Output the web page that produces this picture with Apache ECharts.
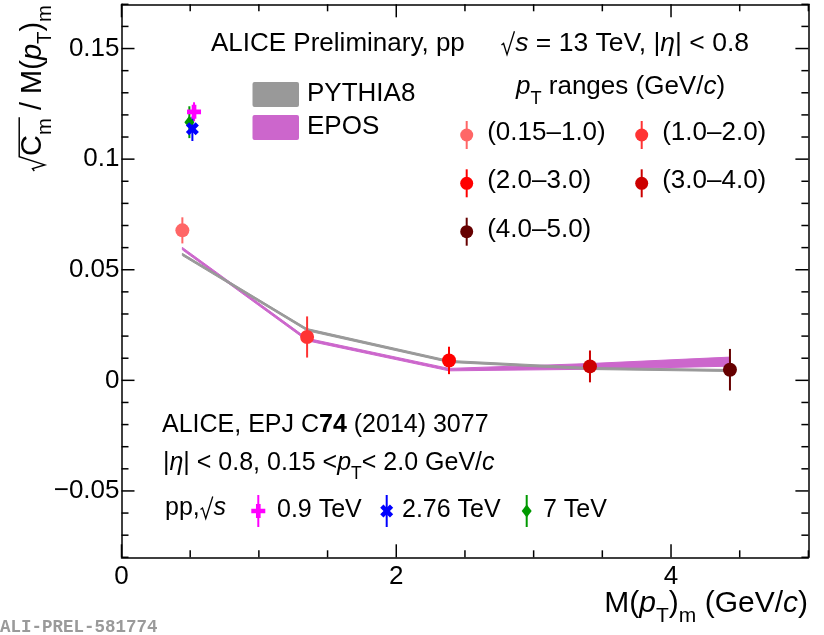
<!DOCTYPE html>
<html>
<head>
<meta charset="utf-8">
<title>sqrt(Cm)/M(pT)m vs M(pT)m</title>
<script src="https://cdn.jsdelivr.net/npm/echarts@6/dist/echarts.min.js"></script>
<style>
  html, body { margin: 0; padding: 0; background: #fff; }
  #chart { width: 824px; height: 635px; }
</style>
</head>
<body>
<div id="chart"></div>
<script>
// ---------- 13 TeV measurement, one point per pT range ----------
const ptRanges = ['(0.15–1.0)', '(1.0–2.0)', '(2.0–3.0)', '(3.0–4.0)', '(4.0–5.0)'];
const rangeColors = ['#ff6666', '#ff3333', '#ff0000', '#cc0000', '#660000'];
const meanPt = [0.443, 1.351, 2.384, 3.410, 4.429];
const sqrtCmRatio = [0.0678, 0.0196, 0.0090, 0.0063, 0.0048];
const sqrtCmErr = [0.0059, 0.0093, 0.0062, 0.0072, 0.0094];

// ---------- model bands (lower / upper edge at each M(pT)m) ----------
const pythiaLow  = [0.0564, 0.0224, 0.0081, 0.0049, 0.0040];
const pythiaHigh = [0.0574, 0.0234, 0.0090, 0.0058, 0.0049];
const eposLow  = [0.0590, 0.0179, 0.0043, 0.0050, 0.0064];
const eposHigh = [0.0601, 0.0190, 0.0054, 0.0076, 0.0105];

// ---------- earlier energies, ALICE EPJ C74 (2014) 3077 ----------
const oldEnergies = ['0.9 TeV', '2.76 TeV', '7 TeV'];
const oldColors = ['#ff00ff', '#0000ff', '#009900'];
const oldMeanPt = [0.528, 0.516, 0.494];
const oldRatio = [0.1214, 0.1137, 0.1167];
const oldErr = [0.0043, 0.0055, 0.0072];

// ---------- axes: ranges, ticks, labels ----------
const xRange = [0, 5];
const yRange = [-0.08, 0.17];
const xTickValues = [0, 2, 4];
const xTickLabels = ['0', '2', '4'];
const xMinorStep = 0.5;
const yTickValues = [-0.05, 0, 0.05, 0.1, 0.15];
const yTickLabels = ['\u22120.05', '0', '0.05', '0.1', '0.15'];
const yMinorStep = 0.01;

// ---------- text layout helpers (italic / bold / subscript / radical) ----------
const SANS = '"Liberation Sans", Arial, Helvetica, sans-serif';
const mctx = document.createElement('canvas').getContext('2d');
function fnt(size, st, fam) {
  st = st || '';
  return (st.indexOf('i') >= 0 ? 'italic ' : '') + (st.indexOf('b') >= 0 ? 'bold ' : '') +
         size.toFixed(2) + 'px ' + (fam || SANS);
}
function measure(t, f) { mctx.font = f; return mctx.measureText(t).width; }
function midOffset(f, size) {
  mctx.font = f; mctx.textBaseline = 'alphabetic';
  const m = mctx.measureText('Hg');
  if (m.fontBoundingBoxAscent) return (m.fontBoundingBoxAscent - m.fontBoundingBoxDescent) / 2;
  return 0.3465 * size;
}
function layoutLine(segs, size, color, fam, bold) {
  const items = segs.map(s => (typeof s === 'string' ? { t: s } : Object.assign({}, s)));
  items.forEach(s => {
    if (s.rad !== undefined) { s.w = size * 0.55; return; }
    s.fs = s.sub ? size * 0.7 : size;
    s.f = fnt(s.fs, (s.st || '') + (bold ? 'b' : ''), fam);
    s.w = measure(s.t, s.f);
  });
  let x = 0;
  const els = [];
  items.forEach((s, k) => {
    if (s.rad !== undefined) {
      let bar = 0;
      for (let j = 1; j <= s.rad; j++) bar += items[k + j].w;
      const top = -size * 0.82;
      const pts = [[x + size * 0.03, -size * 0.30], [x + size * 0.11, -size * 0.36],
                   [x + size * 0.24, size * 0.06], [x + s.w - size * 0.03, top]];
      if (bar > 0) pts.push([x + s.w + bar + size * 0.03, top]);
      els.push({ type: 'polyline', shape: { points: pts },
                 style: { stroke: color, fill: null, lineWidth: Math.max(1.3, size * 0.05) } });
    } else {
      const base = s.sub ? size * 0.33 : 0;
      els.push({ type: 'text', x: x, y: base - midOffset(s.f, s.fs),
                 style: { text: s.t, font: s.f, fill: color,
                          textAlign: 'left', textVerticalAlign: 'middle', align: 'left', verticalAlign: 'middle' } });
    }
    x += s.w;
  });
  return { els: els, width: x };
}
function textBlock(x, y, segs, size, opts) {
  opts = opts || {};
  const L = layoutLine(segs, size, opts.color || '#000', opts.family, opts.bold);
  const dx = opts.align === 'right' ? -L.width : (opts.align === 'center' ? -L.width / 2 : 0);
  L.els.forEach(e => {
    if (e.type === 'text') e.x += dx;
    else e.shape.points = e.shape.points.map(p => [p[0] + dx, p[1]]);
  });
  return { type: 'group', x: x, y: y, rotation: opts.rotation || 0, silent: true, z: 100, children: L.els };
}

// ---------- marker shapes ----------
const plusPts = [[4,0],[8,0],[8,4],[12,4],[12,8],[8,8],[8,12],[4,12],[4,8],[0,8],[0,4],[4,4]];
const crossPts = [[0,3],[3,0],[6,3],[9,0],[12,3],[9,6],[12,9],[9,12],[6,9],[3,12],[0,9],[3,6]];
function toPath(pts) { return 'path://M' + pts.map(p => p.join(',')).join('L') + 'Z'; }
const oldSymbols = [toPath(plusPts), toPath(crossPts), 'diamond'];
const oldSymbolSizes = [14, 13, [10, 13]];
function markerShape(k, cx, cy, color) {
  if (k === 2) {
    return { type: 'polygon', shape: { points: [[cx, cy - 6.5], [cx + 5, cy], [cx, cy + 6.5], [cx - 5, cy]] },
             style: { fill: color }, z: 101 };
  }
  const pts = k === 0 ? plusPts : crossPts;
  const sz = oldSymbolSizes[k] / 12;
  return { type: 'polygon', shape: { points: pts.map(p => [cx + (p[0] - 6) * sz, cy + (p[1] - 6) * sz]) },
           style: { fill: color }, z: 101 };
}
function vbar(cx, cy, half, color) {
  return { type: 'line', shape: { x1: cx, y1: cy - half, x2: cx, y2: cy + half },
           style: { stroke: color, lineWidth: 2 }, z: 100 };
}

// ---------- series renderers ----------
function bandRenderer(lo, hi, color) {
  return function (params, api) {
    const up = meanPt.map((x, i) => api.coord([x, hi[i]]));
    const dn = meanPt.map((x, i) => api.coord([x, lo[i]])).reverse();
    return { type: 'polygon', shape: { points: up.concat(dn) },
             style: { fill: color, stroke: color, lineWidth: 1 } };
  };
}
function errorRenderer(colors) {
  return function (params, api) {
    const x = api.value(0);
    const p1 = api.coord([x, api.value(1)]);
    const p2 = api.coord([x, api.value(2)]);
    return { type: 'line', shape: { x1: p1[0], y1: p1[1], x2: p2[0], y2: p2[1] },
             style: { stroke: colors[api.value(3)], lineWidth: 2 } };
  };
}

// Inward-pointing ticks on all four frame edges: [value, 0 = x / 1 = y, 1 = major]
const frameTicks = [];
for (let v = xRange[0]; v <= xRange[1] + 1e-9; v += xMinorStep) {
  const r = Math.round(v * 1000) / 1000;
  frameTicks.push([r, 0, xTickValues.some(t => Math.abs(t - r) < 1e-9) ? 1 : 0]);
}
for (let k = Math.ceil(yRange[0] / yMinorStep - 1e-9); k * yMinorStep <= yRange[1] + 1e-9; k++) {
  const r = Math.round(k * yMinorStep * 1000) / 1000;
  frameTicks.push([r, 1, yTickValues.some(t => Math.abs(t - r) < 1e-9) ? 1 : 0]);
}
const TICK_MAJOR = 13, TICK_MINOR = 7;
function tickRenderer(params, api) {
  const v = api.value(0), isY = api.value(1) === 1, len = api.value(2) === 1 ? TICK_MAJOR : TICK_MINOR;
  const st = { stroke: '#000', lineWidth: 1.5 };
  let a, b;
  if (isY) {
    a = api.coord([xRange[0], v]); b = api.coord([xRange[1], v]);
    return { type: 'group', children: [
      { type: 'line', shape: { x1: a[0], y1: a[1], x2: a[0] + len, y2: a[1] }, style: st },
      { type: 'line', shape: { x1: b[0], y1: b[1], x2: b[0] - len, y2: b[1] }, style: st } ] };
  }
  a = api.coord([v, yRange[0]]); b = api.coord([v, yRange[1]]);
  return { type: 'group', children: [
    { type: 'line', shape: { x1: a[0], y1: a[1], x2: a[0], y2: a[1] - len }, style: st },
    { type: 'line', shape: { x1: b[0], y1: b[1], x2: b[0], y2: b[1] + len }, style: st } ] };
}

// ---------- axes (frame lines + labels; ticks come from the tick series) ----------
const frame = { show: true, onZero: false, lineStyle: { color: '#000', width: 1.5 } };
const labelFont = { fontFamily: SANS, fontSize: 26, color: '#000' };
function xAxisDef(pos, showLabels) {
  return {
    type: 'value', position: pos, min: xRange[0], max: xRange[1], interval: 2,
    axisLine: frame, axisTick: { show: false }, minorTick: { show: false },
    axisLabel: Object.assign({ show: showLabels, margin: 7,
      formatter: v => xTickLabels[xTickValues.indexOf(Math.round(v))] || '' }, labelFont),
    splitLine: { show: false }
  };
}
function yAxisDef(pos, showLabels) {
  return {
    type: 'value', position: pos, min: yRange[0], max: yRange[1],
    axisLine: frame, axisTick: { show: false }, minorTick: { show: false },
    axisLabel: Object.assign({ show: showLabels, margin: 2, customValues: yTickValues,
      formatter: v => { const i = yTickValues.findIndex(t => Math.abs(t - v) < 1e-6); return i >= 0 ? yTickLabels[i] : ''; } },
      labelFont),
    splitLine: { show: false }
  };
}

// ---------- overlay text and legends ----------
const graphics = [];
graphics.push(textBlock(211, 53, ['ALICE Preliminary, pp'], 26));
graphics.push(textBlock(749, 53, [{ rad: 0 }, { t: 's', st: 'i' }, ' = 13 TeV, |', { t: 'η', st: 'i' }, '| < 0.8'], 26.5, { align: 'right' }));
// model legend
graphics.push({ type: 'rect', shape: { x: 252.5, y: 82, width: 46.5, height: 25, r: 2 }, style: { fill: '#999999' }, silent: true });
graphics.push({ type: 'rect', shape: { x: 252.5, y: 115, width: 46.5, height: 25, r: 2 }, style: { fill: '#cc66cc' }, silent: true });
graphics.push(textBlock(307, 103, ['PYTHIA8'], 26));
graphics.push(textBlock(307, 136, ['EPOS'], 26));
// pT-range legend
graphics.push(textBlock(516, 96, [{ t: 'p', st: 'i' }, { t: 'T', sub: 1 }, ' ranges (GeV/', { t: 'c', st: 'i' }, ')'], 26));
const legCols = [466.7, 641.7];
const legRows = [135, 183.3, 231.7];
ptRanges.forEach((name, i) => {
  const cx = legCols[i % 2], cy = legRows[Math.floor(i / 2)];
  graphics.push(vbar(cx, cy, 14, rangeColors[i]));
  graphics.push({ type: 'circle', shape: { cx: cx, cy: cy, r: 6.5 }, style: { fill: rangeColors[i] }, z: 101, silent: true });
  graphics.push(textBlock(cx + 20.5, cy + 7, [name], 26));
});
// earlier-energies block
graphics.push(textBlock(162, 434, ['ALICE, EPJ C', { t: '74', st: 'b' }, ' (2014) 3077'], 25));
graphics.push(textBlock(163, 472, ['|', { t: 'η', st: 'i' }, '| < 0.8, 0.15 <', { t: 'p', st: 'i' }, { t: 'T', sub: 1 }, '< 2.0 GeV/', { t: 'c', st: 'i' }], 25));
graphics.push(textBlock(165, 517, ['pp,', { rad: 0 }, { t: 's', st: 'i' }], 25));
const oldLegX = [258.3, 386.7, 526.7];
const oldLegTextX = [277, 402, 543];
oldEnergies.forEach((name, k) => {
  graphics.push(vbar(oldLegX[k], 511, 16, oldColors[k]));
  graphics.push(markerShape(k, oldLegX[k], 511, oldColors[k]));
  graphics.push(textBlock(oldLegTextX[k], 519, [name], 25));
});
// axis titles
graphics.push(textBlock(808, 614, ['M(', { t: 'p', st: 'i' }, { t: 'T', sub: 1 }, ')', { t: 'm', sub: 1 }, ' (GeV/', { t: 'c', st: 'i' }, ')'], 30, { align: 'right' }));
graphics.push(textBlock(43, 5, [{ rad: 2 }, 'C', { t: 'm', sub: 1 }, ' / M(', { t: 'p', st: 'i' }, { t: 'T', sub: 1 }, ')', { t: 'm', sub: 1 }], 29, { align: 'right', rotation: Math.PI / 2 }));
// figure id
graphics.push(textBlock(0, 633, ['ALI-PREL-581774'], 17.5, { color: '#9a9a9a', bold: true, family: '"Liberation Mono", "DejaVu Sans Mono", monospace' }));

// ---------- chart ----------
const chart = echarts.init(document.getElementById('chart'), null, { renderer: 'canvas' });
chart.setOption({
  animation: false,
  backgroundColor: '#fff',
  grid: { left: 121.5, right: 15.6, top: 4.3, bottom: 77.7, containLabel: false, outerBoundsMode: 'none' },
  xAxis: [xAxisDef('bottom', true), xAxisDef('top', false)],
  yAxis: [yAxisDef('left', true), yAxisDef('right', false)],
  graphic: graphics,
  series: [
    { name: 'frame ticks', type: 'custom', renderItem: tickRenderer, data: frameTicks,
      clip: false, z: 10, silent: true },
    { name: 'EPOS', type: 'custom', renderItem: bandRenderer(eposLow, eposHigh, '#cc66cc'),
      data: [[meanPt[0], eposLow[0]]], z: 2, silent: true },
    { name: 'PYTHIA8', type: 'custom', renderItem: bandRenderer(pythiaLow, pythiaHigh, '#999999'),
      data: [[meanPt[0], pythiaLow[0]]], z: 3, silent: true },
    { name: 'pT range errors', type: 'custom', renderItem: errorRenderer(rangeColors), z: 4, silent: true,
      data: meanPt.map((x, i) => [x, sqrtCmRatio[i] - sqrtCmErr[i], sqrtCmRatio[i] + sqrtCmErr[i], i]) },
    { name: 'pT ranges', type: 'scatter', symbol: 'circle', symbolSize: 14, z: 5, silent: true,
      data: meanPt.map((x, i) => ({ value: [x, sqrtCmRatio[i]], itemStyle: { color: rangeColors[i], opacity: 1 } })) },
    { name: 'earlier energies errors', type: 'custom', renderItem: errorRenderer(oldColors), z: 4, silent: true,
      data: oldMeanPt.map((x, k) => [x, oldRatio[k] - oldErr[k], oldRatio[k] + oldErr[k], k]) }
  ].concat(oldEnergies.map((name, k) => ({
    name: name, type: 'scatter', symbol: oldSymbols[k], symbolSize: oldSymbolSizes[k], z: 6 - k, silent: true,
    itemStyle: { color: oldColors[k], opacity: 1 },
    data: [[oldMeanPt[k], oldRatio[k]]]
  })))
});
</script>
</body>
</html>
